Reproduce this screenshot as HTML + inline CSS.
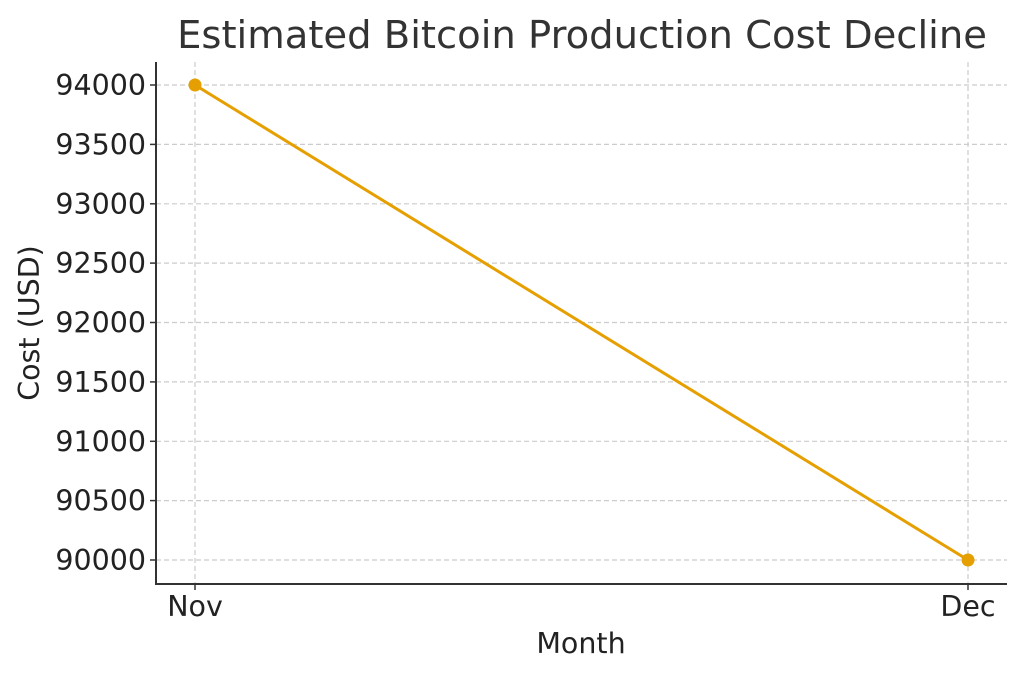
<!DOCTYPE html>
<html><head><meta charset="utf-8"><style>
html,body{margin:0;padding:0;background:#fff;}
svg{display:block;font-family:"DejaVu Sans","Liberation Sans",sans-serif;}
</style></head><body>
<svg width="1024" height="677" viewBox="0 0 1024 677" xmlns="http://www.w3.org/2000/svg">
<rect width="1024" height="677" fill="#fff"/>
<text x="582" y="48" text-anchor="middle" font-size="38.5" fill="#333">Estimated Bitcoin Production Cost Decline</text>
<g stroke="#cccccc" stroke-width="1.2" stroke-dasharray="5,3">
<line x1="156" x2="1007" y1="85" y2="85"/>
<line x1="156" x2="1007" y1="144.4" y2="144.4"/>
<line x1="156" x2="1007" y1="203.8" y2="203.8"/>
<line x1="156" x2="1007" y1="263.1" y2="263.1"/>
<line x1="156" x2="1007" y1="322.5" y2="322.5"/>
<line x1="156" x2="1007" y1="381.9" y2="381.9"/>
<line x1="156" x2="1007" y1="441.3" y2="441.3"/>
<line x1="156" x2="1007" y1="500.6" y2="500.6"/>
<line x1="156" x2="1007" y1="560" y2="560"/>
<line x1="195" x2="195" y1="62" y2="584"/>
<line x1="968" x2="968" y1="62" y2="584"/>
</g>
<g stroke="#333" stroke-width="2">
<line x1="156" x2="156" y1="62" y2="585"/>
<line x1="155" x2="1007" y1="584" y2="584"/>
</g>
<g stroke="#333" stroke-width="1.5">
<line x1="150" x2="156" y1="85" y2="85"/><line x1="150" x2="156" y1="144.4" y2="144.4"/>
<line x1="150" x2="156" y1="203.8" y2="203.8"/><line x1="150" x2="156" y1="263.1" y2="263.1"/>
<line x1="150" x2="156" y1="322.5" y2="322.5"/><line x1="150" x2="156" y1="381.9" y2="381.9"/>
<line x1="150" x2="156" y1="441.3" y2="441.3"/><line x1="150" x2="156" y1="500.6" y2="500.6"/>
<line x1="150" x2="156" y1="560" y2="560"/>
<line x1="195" x2="195" y1="584" y2="590"/><line x1="968" x2="968" y1="584" y2="590"/>
</g>
<g font-size="28.5" fill="#222" text-anchor="end">
<text x="146" y="95">94000</text><text x="146" y="154.4">93500</text>
<text x="146" y="213.8">93000</text><text x="146" y="273.1">92500</text>
<text x="146" y="332.5">92000</text><text x="146" y="391.9">91500</text>
<text x="146" y="451.3">91000</text><text x="146" y="510.6">90500</text>
<text x="146" y="570">90000</text>
</g>
<g font-size="28.5" fill="#222" text-anchor="middle">
<text x="195" y="616">Nov</text><text x="968" y="616">Dec</text>
<text x="581" y="653">Month</text>
<text transform="translate(39,323) rotate(-90)">Cost (USD)</text>
</g>
<line x1="195" y1="85" x2="968" y2="560" stroke="#E69F00" stroke-width="3"/>
<circle cx="195" cy="85" r="6.5" fill="#E69F00"/>
<circle cx="968" cy="560" r="6.5" fill="#E69F00"/>
</svg>
</body></html>
